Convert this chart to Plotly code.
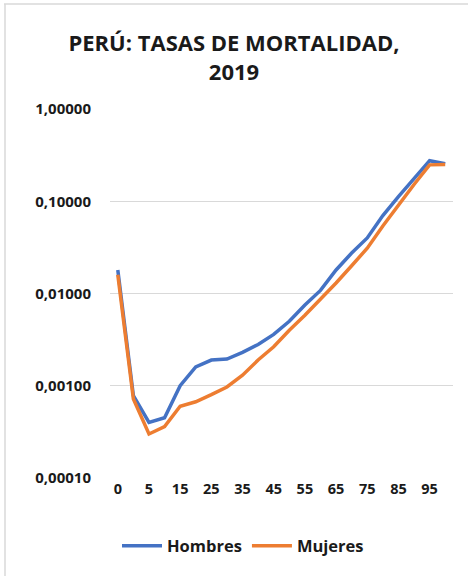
import plotly.graph_objects as go

# Age groups (years) for the mortality rates
edades = ["0", "1", "5", "10", "15", "20", "25", "30", "35", "40", "45",
          "50", "55", "60", "65", "70", "75", "80", "85", "90", "95", "100"]

# Mortality rates by age group, Peru 2019
hombres = [0.0180, 0.00078, 0.00040, 0.00045, 0.00100, 0.00160, 0.00190, 0.00195,
           0.00230, 0.00280, 0.00360, 0.00500, 0.00750, 0.01080, 0.01800, 0.02750,
           0.04000, 0.07000, 0.11200, 0.17500, 0.27500, 0.25500]
mujeres = [0.0160, 0.00072, 0.00030, 0.00036, 0.00060, 0.00067, 0.00080, 0.00097,
           0.00130, 0.00190, 0.00265, 0.00400, 0.00580, 0.00860, 0.01300, 0.02000,
           0.03100, 0.05400, 0.09200, 0.15200, 0.24800, 0.25000]

# Axis tick labels
x_ticks = ["0", "5", "15", "25", "35", "45", "55", "65", "75", "85", "95"]
y_tickvals = [1, 0.1, 0.01, 0.001, 0.0001]
y_ticktext = ["1,00000", "0,10000", "0,01000", "0,00100", "0,00010"]

AZUL = "#4472C4"
NARANJA = "#ED7D31"
GRIS = "#D9D9D9"
TEXTO = "#1a1a1a"
FUENTE = "Open Sans, Liberation Sans, sans-serif"


def negrita(s):
    return "<b>" + s + "</b>"


fig = go.Figure()
fig.add_trace(go.Scatter(x=edades, y=hombres, mode="lines", name=negrita("Hombres"),
                         line=dict(color=AZUL, width=3.5)))
fig.add_trace(go.Scatter(x=edades, y=mujeres, mode="lines", name=negrita("Mujeres"),
                         line=dict(color=NARANJA, width=3.5)))

fig.update_layout(
    width=468, height=576,
    margin=dict(l=110, r=15, t=109, b=98),
    paper_bgcolor="white", plot_bgcolor="white",
    title=dict(text=negrita("PERÚ: TASAS DE MORTALIDAD,<br>2019"),
               x=0.5, xanchor="center", xref="container",
               y=1 - 51 / 576, yanchor="middle", yref="container",
               font=dict(family=FUENTE, size=22, color=TEXTO)),
    showlegend=True,
    legend=dict(orientation="h", x=(243 - 110) / 343, xanchor="center",
                y=(478 - 546) / 369, yanchor="middle",
                font=dict(family=FUENTE, size=16.5, color=TEXTO),
                itemwidth=40, tracegroupgap=0, bgcolor="rgba(0,0,0,0)"),
    font=dict(family=FUENTE, color=TEXTO),
)

fig.update_xaxes(type="category", categoryorder="array", categoryarray=edades,
                 range=[-0.5, len(edades) - 0.5],
                 tickmode="array", tickvals=x_ticks,
                 ticktext=[negrita(t) for t in x_ticks],
                 tickfont=dict(family=FUENTE, size=14.5, color=TEXTO),
                 showgrid=False, showline=False, ticks="", zeroline=False)
fig.update_yaxes(type="log", range=[-4, 0],
                 tickmode="array", tickvals=y_tickvals,
                 ticktext=[negrita(t) for t in y_ticktext],
                 tickfont=dict(family=FUENTE, size=15, color=TEXTO),
                 showgrid=True, gridcolor=GRIS, gridwidth=1,
                 showline=False, ticks="", zeroline=False, ticklabelstandoff=18)

# Chart frame edges (top and left)
fig.add_shape(type="line", xref="paper", yref="paper",
              x0=(4 - 110) / 343, x1=(468 - 110) / 343,
              y0=(478 - 4) / 369, y1=(478 - 4) / 369,
              line=dict(color=GRIS, width=1.5))
fig.add_shape(type="line", xref="paper", yref="paper",
              x0=(5 - 110) / 343, x1=(5 - 110) / 343,
              y0=(478 - 4) / 369, y1=(478 - 576) / 369,
              line=dict(color=GRIS, width=1.5))

fig.write_html("out.html")
